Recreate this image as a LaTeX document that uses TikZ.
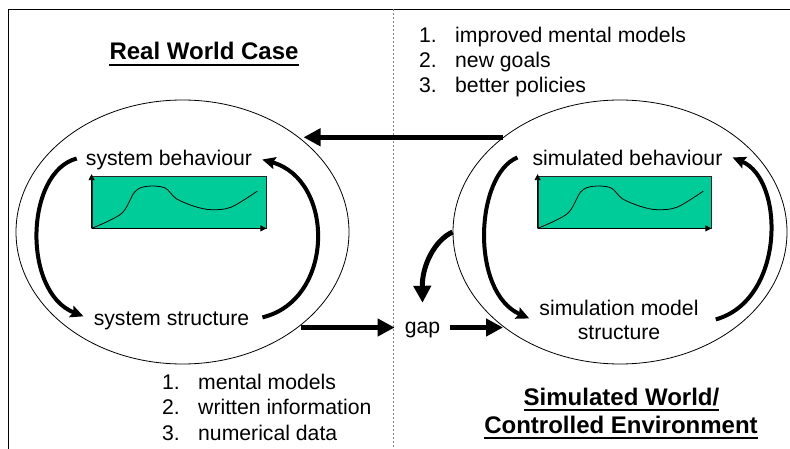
\documentclass[tikz,border=0pt]{standalone}
\usepackage{fontspec}
\setmainfont{Liberation Sans}
\usetikzlibrary{arrows.meta,shapes.geometric,calc}
\definecolor{chartgreen}{RGB}{0,204,153}
\begin{document}
\begin{tikzpicture}[x=1pt,y=-1pt,
  txt/.style={font=\fontsize{21.2}{24.8}\selectfont, inner sep=0pt},
  lbl/.style={txt, inner sep=10pt},
  ttl/.style={font=\fontsize{24}{28}\selectfont\bfseries, inner sep=0pt},
  uline/.style={line width=2.3pt},
  oval/.style={ellipse, draw, line width=0.8pt, inner sep=0pt},
  chart/.style={draw=black!85, fill=chartgreen, line width=0.8pt, inner sep=0pt},
  axis/.style={line width=0.8pt, -{Triangle[length=6pt,width=6pt]}},
  cyc/.style={line width=4pt, -{Stealth[length=13pt,width=12pt,inset=2pt]}},
  big/.style={line width=5pt, -{Triangle[length=17pt,width=17pt]}}
]
\useasboundingbox (0,0) rectangle (790,449);

% frame and divider
\draw[line width=1.3pt] (8.3,449) -- (8.3,9.3) -- (790,9.3);
\draw[gray, line width=1pt, dash pattern=on 2pt off 2pt] (393,9.3) -- (393,449);

% ellipses
\node[oval, minimum width=333, minimum height=264] (L) at (182.5,232) {};
\node[oval, minimum width=334, minimum height=264] (R) at (620,232) {};

% charts
\node[chart, minimum width=174, minimum height=52] (g1) at (179,202) {};
\node[chart, minimum width=173, minimum height=52] (g2) at (624.5,202) {};
\foreach \g in {g1,g2}{
  \draw[axis] (\g.south west) -- ([yshift=1.5pt]\g.north west);
  \draw[axis] (\g.south west) -- (\g.south east);
  \begin{scope}[shift={(\g.south west)}]
    \draw[line width=0.8pt] plot[smooth, tension=0.55] coordinates
      {(0,0) (29.7,-14.7) (43,-36.3) (54.7,-42) (73,-40.7) (84.7,-29.7)
       (103,-22) (119.7,-18.7) (139.7,-21.3) (165.7,-37.3)};
  \end{scope}
}

% labels
\node[lbl, anchor=base] (sb) at (169,166) {system behaviour};
\node[lbl, anchor=base] (ss) at (171.5,325) {system structure};
\node[lbl, anchor=base] (smb) at (627.5,166) {simulated behaviour};
\node[lbl, anchor=base] (sms) at (619,315)
  {\begin{tabular}[t]{@{}c@{}}simulation model\\structure\end{tabular}};
\node[txt, inner sep=10pt, text height=11pt, text depth=0pt] (gap) at (422.5,327.5) {gap};

% cycle arrows
\draw[cyc] ([xshift=1pt,yshift=2pt]sb.west) .. controls (25,172) and (22,292) .. ([yshift=4pt]ss.west);
\draw[cyc] ([xshift=3pt,yshift=3pt]ss.east) .. controls (335,300) and (335,180) .. ([yshift=1pt]sb.east);
\draw[cyc] ([xshift=-5pt,yshift=1pt]smb.west) .. controls (475,175) and (470,292) .. ([yshift=4pt]sms.west);
\draw[cyc] ([xshift=7pt,yshift=3pt]sms.east) .. controls (785,300) and (785,180) .. ([yshift=1pt]smb.east);

% thick arrows
\draw[big] (R.141.8) -- (R.141.8 -| L.37.5);
\draw[big] (gap.west -| L.-38.8) -- (gap.west);
\draw[big] (gap.east) -- (gap.east -| R.-141.2);
\draw[big] (R.west) .. controls (435,240) and (422,265) .. ([yshift=9pt]gap.north);

% titles
\node[ttl, anchor=base] (t1) at (204,60) {Real World Case};
\draw[uline] ([yshift=-4.8pt]t1.base west) -- ([yshift=-4.8pt]t1.base east);
\node[ttl, anchor=base] (t2a) at (621.5,405) {Simulated World/};
\draw[uline] ([yshift=-5pt]t2a.base west) -- ([yshift=-5pt]t2a.base east);
\node[ttl, anchor=base] (t2b) at (621,433) {Controlled Environment};
\draw[uline] ([yshift=-5pt]t2b.base west) -- ([yshift=-5pt]t2b.base east);

% lists
\node[txt, anchor=base west] (toplist) at (419,43)
  {\begin{tabular}[t]{@{}l@{}}\makebox[36pt][l]{1.}improved mental models\\
   \makebox[36pt][l]{2.}new goals\\ \makebox[36pt][l]{3.}better policies\end{tabular}};
\node[txt, anchor=base west, font=\fontsize{21.2}{25.7}\selectfont] (botlist) at (162,389)
  {\begin{tabular}[t]{@{}l@{}}\makebox[36pt][l]{1.}mental models\\
   \makebox[36pt][l]{2.}written information\\ \makebox[36pt][l]{3.}numerical data\end{tabular}};
\end{tikzpicture}
\end{document}
